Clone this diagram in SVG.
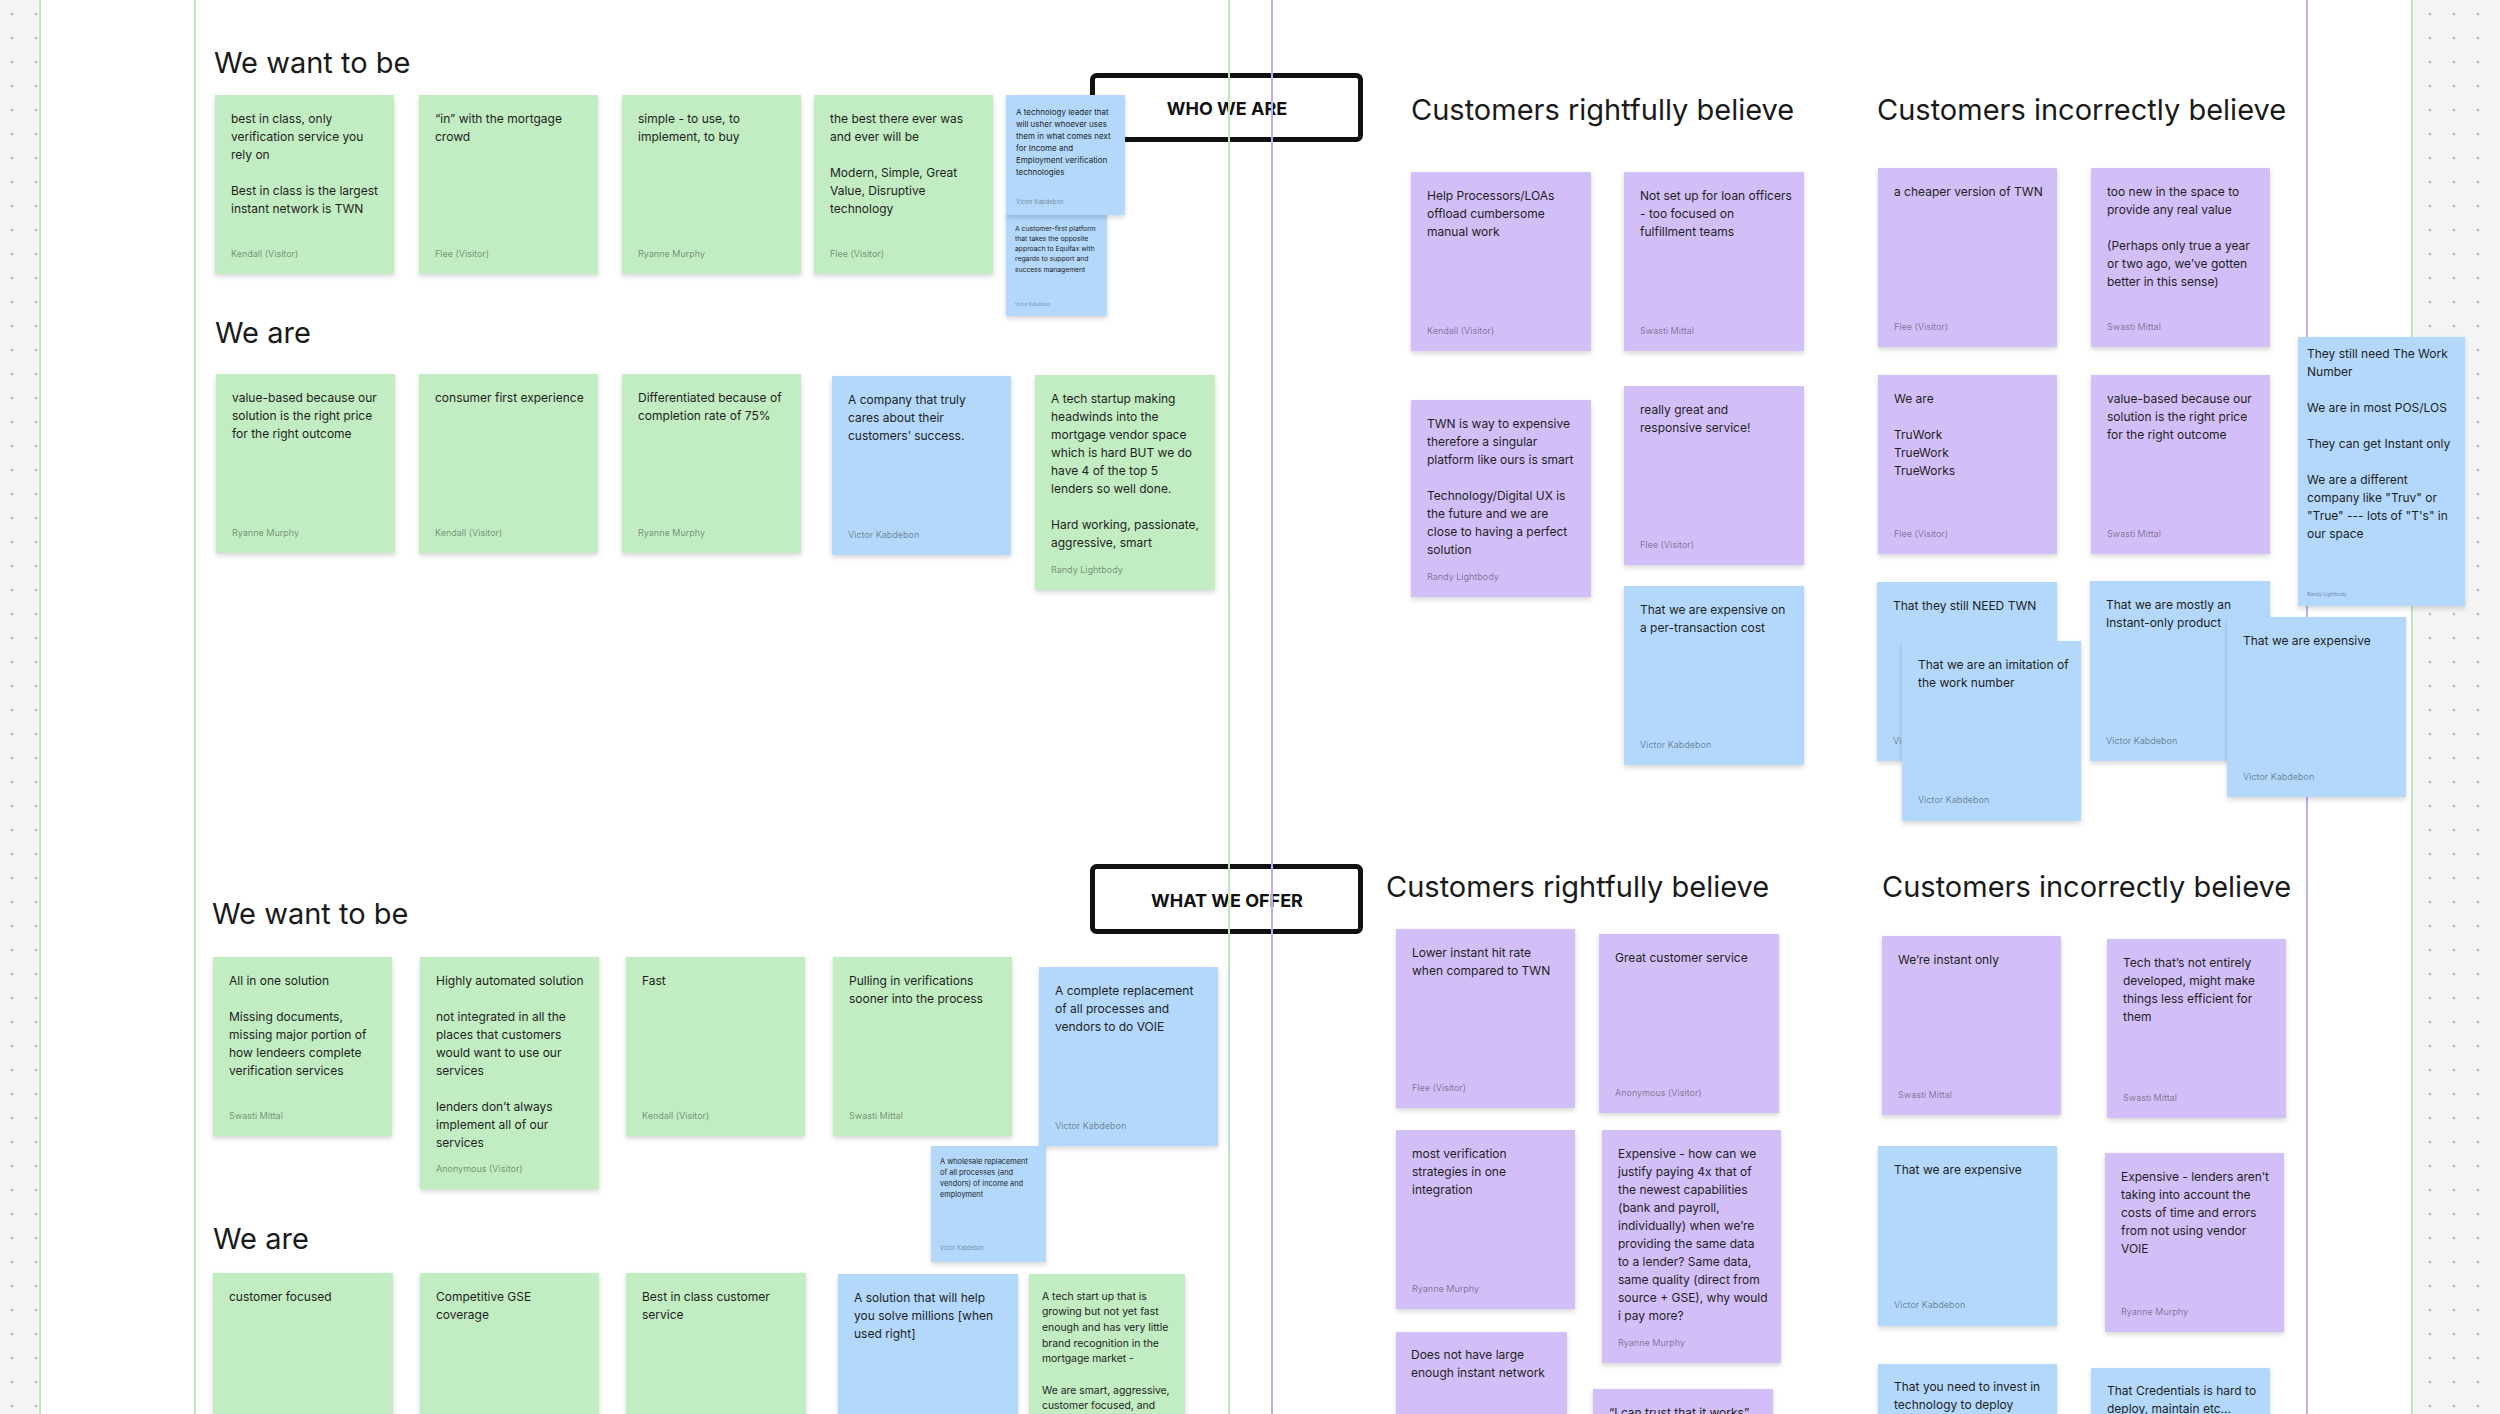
<svg xmlns="http://www.w3.org/2000/svg" width="2500" height="1414" viewBox="0 0 2500 1414">
<defs>
<filter id="sh" x="-10%" y="-10%" width="120%" height="130%"><feDropShadow dx="0" dy="2.5" stdDeviation="2.5" flood-color="#000" flood-opacity="0.16"/></filter>
<pattern id="dl" x="0" y="2" width="24" height="24" patternUnits="userSpaceOnUse"><circle cx="12" cy="12" r="1.3" fill="#b4b4b4"/></pattern>
<pattern id="dr" x="2418" y="2" width="24" height="24" patternUnits="userSpaceOnUse"><circle cx="12" cy="12" r="1.3" fill="#b4b4b4"/></pattern>
</defs>
<style>
.g{fill:#c2ecc2;filter:url(#sh)}
.p{fill:#d3bff8;filter:url(#sh)}
.b{fill:#b3d8fb;filter:url(#sh)}
text{font-family:Inter,"Noto Sans","Liberation Sans",sans-serif}
.t{font-size:12px;fill:#1e1e1e}
.a{font-size:9px;fill:#000;fill-opacity:.42}
.h{font-size:29px;fill:#1a1a1a}
.bx{fill:#fff;stroke:#111;stroke-width:5}
.bt{font-size:18px;font-weight:700;fill:#111;text-anchor:middle}
.lg{stroke:#bfe8bf;stroke-width:2}
.lp{stroke:#c2acf4;stroke-width:2}
</style>
<rect x="0" y="0" width="2500" height="1414" fill="#fff"/>
<rect x="0" y="0" width="40" height="1414" fill="#f4f4f4"/>
<rect x="0" y="0" width="40" height="1414" fill="url(#dl)"/>
<rect x="2412" y="0" width="88" height="1414" fill="#f4f4f4"/>
<rect x="2412" y="0" width="88" height="1414" fill="url(#dr)"/>

<g id="titles">
<text class="h" x="214" y="73">We want to be</text>
<text class="h" x="215" y="343">We are</text>
<text class="h" x="1411" y="120">Customers rightfully believe</text>
<text class="h" x="1877" y="120">Customers incorrectly believe</text>
<text class="h" x="212" y="924">We want to be</text>
<text class="h" x="213" y="1249">We are</text>
<text class="h" x="1386" y="897">Customers rightfully believe</text>
<text class="h" x="1882" y="897">Customers incorrectly believe</text>
</g>

<g id="who-we-are"><rect class="bx" x="1092.5" y="75.5" width="268" height="64" rx="4"/><text class="bt" x="1227" y="115">WHO WE ARE</text></g>
<g id="what-we-offer"><rect class="bx" x="1092.5" y="866.5" width="268" height="65" rx="4"/><text class="bt" x="1227" y="907">WHAT WE OFFER</text></g>

<g id="connectors">
<line class="lg" x1="40" y1="0" x2="40" y2="1414"/>
<line class="lg" x1="195" y1="0" x2="195" y2="1414"/>
<line class="lg" x1="1229" y1="0" x2="1229" y2="1414"/>
<line class="lp" x1="1272" y1="0" x2="1272" y2="1414"/>
<line class="lp" x1="2307" y1="0" x2="2307" y2="1414"/>
<line class="lg" x1="2412" y1="0" x2="2412" y2="1414"/>
</g>

<g id="twtb1"><rect class="g" x="215" y="95" width="179" height="179"/><text class="t"><tspan x="231" y="123">best in class, only</tspan><tspan x="231" y="141">verification service you</tspan><tspan x="231" y="159">rely on</tspan><tspan x="231" y="195">Best in class is the largest</tspan><tspan x="231" y="213">instant network is TWN</tspan></text><text class="a" x="231" y="257">Kendall (Visitor)</text></g>
<g id="twtb2"><rect class="g" x="419" y="95" width="179" height="179"/><text class="t"><tspan x="435" y="123">“in” with the mortgage</tspan><tspan x="435" y="141">crowd</tspan></text><text class="a" x="435" y="257">Flee (Visitor)</text></g>
<g id="twtb3"><rect class="g" x="622" y="95" width="179" height="179"/><text class="t"><tspan x="638" y="123">simple - to use, to</tspan><tspan x="638" y="141">implement, to buy</tspan></text><text class="a" x="638" y="257">Ryanne Murphy</text></g>
<g id="twtb4"><rect class="g" x="814" y="95" width="179" height="179"/><text class="t"><tspan x="830" y="123">the best there ever was</tspan><tspan x="830" y="141">and ever will be</tspan><tspan x="830" y="177">Modern, Simple, Great</tspan><tspan x="830" y="195">Value, Disruptive</tspan><tspan x="830" y="213">technology</tspan></text><text class="a" x="830" y="257">Flee (Visitor)</text></g>
<g id="twtb6"><rect class="b" x="1006" y="214" width="101" height="102"/><text class="t" style="font-size:6.8px"><tspan x="1015" y="230.5">A customer-first platform</tspan><tspan x="1015" y="240.8">that takes the opposite</tspan><tspan x="1015" y="251.1">approach to Equifax with</tspan><tspan x="1015" y="261.4">regards to support and</tspan><tspan x="1015" y="271.7">success management</tspan></text><text class="a" style="font-size:4.5px" x="1015" y="305.5">Victor Kabdebon</text></g>
<g id="twtb5"><rect class="b" x="1006" y="95" width="119" height="120"/><text class="t" style="font-size:8px"><tspan x="1016" y="115">A technology leader that</tspan><tspan x="1016" y="127">will usher whoever uses</tspan><tspan x="1016" y="139">them in what comes next</tspan><tspan x="1016" y="151">for Income and</tspan><tspan x="1016" y="163">Employment verification</tspan><tspan x="1016" y="175">technologies</tspan></text><text class="a" style="font-size:6px" x="1016" y="203.5">Victor Kabdebon</text></g>

<g id="twa1"><rect class="g" x="216" y="374" width="179" height="179"/><text class="t"><tspan x="232" y="402">value-based because our</tspan><tspan x="232" y="420">solution is the right price</tspan><tspan x="232" y="438">for the right outcome</tspan></text><text class="a" x="232" y="536">Ryanne Murphy</text></g>
<g id="twa2"><rect class="g" x="419" y="374" width="179" height="179"/><text class="t"><tspan x="435" y="402">consumer first experience</tspan></text><text class="a" x="435" y="536">Kendall (Visitor)</text></g>
<g id="twa3"><rect class="g" x="622" y="374" width="179" height="179"/><text class="t"><tspan x="638" y="402">Differentiated because of</tspan><tspan x="638" y="420">completion rate of 75%</tspan></text><text class="a" x="638" y="536">Ryanne Murphy</text></g>
<g id="twa4"><rect class="b" x="832" y="376" width="179" height="179"/><text class="t"><tspan x="848" y="404">A company that truly</tspan><tspan x="848" y="422">cares about their</tspan><tspan x="848" y="440">customers’ success.</tspan></text><text class="a" x="848" y="538">Victor Kabdebon</text></g>
<g id="twa5"><rect class="g" x="1035" y="375" width="180" height="215"/><text class="t"><tspan x="1051" y="403">A tech startup making</tspan><tspan x="1051" y="421">headwinds into the</tspan><tspan x="1051" y="439">mortgage vendor space</tspan><tspan x="1051" y="457">which is hard BUT we do</tspan><tspan x="1051" y="475">have 4 of the top 5</tspan><tspan x="1051" y="493">lenders so well done.</tspan><tspan x="1051" y="529">Hard working, passionate,</tspan><tspan x="1051" y="547">aggressive, smart</tspan></text><text class="a" x="1051" y="573">Randy Lightbody</text></g>

<g id="tr1"><rect class="p" x="1411" y="172" width="180" height="179"/><text class="t"><tspan x="1427" y="200">Help Processors/LOAs</tspan><tspan x="1427" y="218">offload cumbersome</tspan><tspan x="1427" y="236">manual work</tspan></text><text class="a" x="1427" y="334">Kendall (Visitor)</text></g>
<g id="tr2"><rect class="p" x="1624" y="172" width="180" height="179"/><text class="t"><tspan x="1640" y="200">Not set up for loan officers</tspan><tspan x="1640" y="218">- too focused on</tspan><tspan x="1640" y="236">fulfillment teams</tspan></text><text class="a" x="1640" y="334">Swasti Mittal</text></g>
<g id="tr3"><rect class="p" x="1411" y="400" width="180" height="197"/><text class="t"><tspan x="1427" y="428">TWN is way to expensive</tspan><tspan x="1427" y="446">therefore a singular</tspan><tspan x="1427" y="464">platform like ours is smart</tspan><tspan x="1427" y="500">Technology/Digital UX is</tspan><tspan x="1427" y="518">the future and we are</tspan><tspan x="1427" y="536">close to having a perfect</tspan><tspan x="1427" y="554">solution</tspan></text><text class="a" x="1427" y="580">Randy Lightbody</text></g>
<g id="tr4"><rect class="p" x="1624" y="386" width="180" height="179"/><text class="t"><tspan x="1640" y="414">really great and</tspan><tspan x="1640" y="432">responsive service!</tspan></text><text class="a" x="1640" y="548">Flee (Visitor)</text></g>
<g id="tr5"><rect class="b" x="1624" y="586" width="180" height="179"/><text class="t"><tspan x="1640" y="614">That we are expensive on</tspan><tspan x="1640" y="632">a per-transaction cost</tspan></text><text class="a" x="1640" y="748">Victor Kabdebon</text></g>

<g id="ti1"><rect class="p" x="1878" y="168" width="179" height="179"/><text class="t"><tspan x="1894" y="196">a cheaper version of TWN</tspan></text><text class="a" x="1894" y="330">Flee (Visitor)</text></g>
<g id="ti2"><rect class="p" x="2091" y="168" width="179" height="179"/><text class="t"><tspan x="2107" y="196">too new in the space to</tspan><tspan x="2107" y="214">provide any real value</tspan><tspan x="2107" y="250">(Perhaps only true a year</tspan><tspan x="2107" y="268">or two ago, we’ve gotten</tspan><tspan x="2107" y="286">better in this sense)</tspan></text><text class="a" x="2107" y="330">Swasti Mittal</text></g>
<g id="ti3"><rect class="p" x="1878" y="375" width="179" height="179"/><text class="t"><tspan x="1894" y="403">We are</tspan><tspan x="1894" y="439">TruWork</tspan><tspan x="1894" y="457">TrueWork</tspan><tspan x="1894" y="475">TrueWorks</tspan></text><text class="a" x="1894" y="537">Flee (Visitor)</text></g>
<g id="ti4"><rect class="p" x="2091" y="375" width="179" height="179"/><text class="t"><tspan x="2107" y="403">value-based because our</tspan><tspan x="2107" y="421">solution is the right price</tspan><tspan x="2107" y="439">for the right outcome</tspan></text><text class="a" x="2107" y="537">Swasti Mittal</text></g>
<g id="ti5"><rect class="b" x="1877" y="582" width="180" height="179"/><text class="t"><tspan x="1893" y="610">That they still NEED TWN</tspan></text><text class="a" x="1893" y="744">Victor Kabdebon</text></g>
<g id="ti6"><rect class="b" x="1902" y="641" width="179" height="180"/><text class="t"><tspan x="1918" y="669">That we are an imitation of</tspan><tspan x="1918" y="687">the work number</tspan></text><text class="a" x="1918" y="803">Victor Kabdebon</text></g>
<g id="ti7"><rect class="b" x="2090" y="581" width="180" height="180"/><text class="t"><tspan x="2106" y="609">That we are mostly an</tspan><tspan x="2106" y="627">Instant-only product</tspan></text><text class="a" x="2106" y="744">Victor Kabdebon</text></g>
<g id="ti8"><rect class="b" x="2227" y="617" width="179" height="180"/><text class="t"><tspan x="2243" y="645">That we are expensive</tspan></text><text class="a" x="2243" y="780">Victor Kabdebon</text></g>
<g id="ti9"><rect class="b" x="2298" y="337" width="167" height="269"/><text class="t"><tspan x="2307" y="358">They still need The Work</tspan><tspan x="2307" y="376">Number</tspan><tspan x="2307" y="412">We are in most POS/LOS</tspan><tspan x="2307" y="448">They can get Instant only</tspan><tspan x="2307" y="484">We are a different</tspan><tspan x="2307" y="502">company like "Truv" or</tspan><tspan x="2307" y="520">"True" --- lots of "T's" in</tspan><tspan x="2307" y="538">our space</tspan></text><text class="a" style="font-size:5px" x="2307" y="596">Randy Lightbody</text></g>

<g id="bwtb1"><rect class="g" x="213" y="957" width="179" height="179"/><text class="t"><tspan x="229" y="985">All in one solution</tspan><tspan x="229" y="1021">Missing documents,</tspan><tspan x="229" y="1039">missing major portion of</tspan><tspan x="229" y="1057">how lendeers complete</tspan><tspan x="229" y="1075">verification services</tspan></text><text class="a" x="229" y="1119">Swasti Mittal</text></g>
<g id="bwtb2"><rect class="g" x="420" y="957" width="179" height="232"/><text class="t"><tspan x="436" y="985">Highly automated solution</tspan><tspan x="436" y="1021">not integrated in all the</tspan><tspan x="436" y="1039">places that customers</tspan><tspan x="436" y="1057">would want to use our</tspan><tspan x="436" y="1075">services</tspan><tspan x="436" y="1111">lenders don’t always</tspan><tspan x="436" y="1129">implement all of our</tspan><tspan x="436" y="1147">services</tspan></text><text class="a" x="436" y="1172">Anonymous (Visitor)</text></g>
<g id="bwtb3"><rect class="g" x="626" y="957" width="179" height="179"/><text class="t"><tspan x="642" y="985">Fast</tspan></text><text class="a" x="642" y="1119">Kendall (Visitor)</text></g>
<g id="bwtb4"><rect class="g" x="833" y="957" width="179" height="179"/><text class="t"><tspan x="849" y="985">Pulling in verifications</tspan><tspan x="849" y="1003">sooner into the process</tspan></text><text class="a" x="849" y="1119">Swasti Mittal</text></g>
<g id="bwtb5"><rect class="b" x="1039" y="967" width="179" height="179"/><text class="t"><tspan x="1055" y="995">A complete replacement</tspan><tspan x="1055" y="1013">of all processes and</tspan><tspan x="1055" y="1031">vendors to do VOIE</tspan></text><text class="a" x="1055" y="1129">Victor Kabdebon</text></g>
<g id="bwtb6"><rect class="b" x="931" y="1146" width="115" height="116"/><text class="t" style="font-size:7.4px"><tspan x="940" y="1163.5">A wholesale replacement</tspan><tspan x="940" y="1174.8">of all processes (and</tspan><tspan x="940" y="1186.1">vendors) of income and</tspan><tspan x="940" y="1197.4">employment</tspan></text><text class="a" style="font-size:5.5px" x="940" y="1250">Victor Kabdebon</text></g>

<g id="bwa1"><rect class="g" x="213" y="1273" width="180" height="170"/><text class="t"><tspan x="229" y="1301">customer focused</tspan></text></g>
<g id="bwa2"><rect class="g" x="420" y="1273" width="179" height="170"/><text class="t"><tspan x="436" y="1301">Competitive GSE</tspan><tspan x="436" y="1319">coverage</tspan></text></g>
<g id="bwa3"><rect class="g" x="626" y="1273" width="180" height="170"/><text class="t"><tspan x="642" y="1301">Best in class customer</tspan><tspan x="642" y="1319">service</tspan></text></g>
<g id="bwa4"><rect class="b" x="838" y="1274" width="180" height="170"/><text class="t"><tspan x="854" y="1302">A solution that will help</tspan><tspan x="854" y="1320">you solve millions [when</tspan><tspan x="854" y="1338">used right]</tspan></text></g>
<g id="bwa5"><rect class="g" x="1029" y="1274" width="156" height="170"/><text class="t" style="font-size:10.4px"><tspan x="1042" y="1299.5">A tech start up that is</tspan><tspan x="1042" y="1315.2">growing but not yet fast</tspan><tspan x="1042" y="1330.9">enough and has very little</tspan><tspan x="1042" y="1346.6">brand recognition in the</tspan><tspan x="1042" y="1362.3">mortgage market -</tspan><tspan x="1042" y="1393.7">We are smart, aggressive,</tspan><tspan x="1042" y="1409.4">customer focused, and</tspan></text></g>

<g id="br1"><rect class="p" x="1396" y="929" width="179" height="179"/><text class="t"><tspan x="1412" y="957">Lower instant hit rate</tspan><tspan x="1412" y="975">when compared to TWN</tspan></text><text class="a" x="1412" y="1091">Flee (Visitor)</text></g>
<g id="br2"><rect class="p" x="1599" y="934" width="180" height="179"/><text class="t"><tspan x="1615" y="962">Great customer service</tspan></text><text class="a" x="1615" y="1096">Anonymous (Visitor)</text></g>
<g id="br3"><rect class="p" x="1396" y="1130" width="179" height="179"/><text class="t"><tspan x="1412" y="1158">most verification</tspan><tspan x="1412" y="1176">strategies in one</tspan><tspan x="1412" y="1194">integration</tspan></text><text class="a" x="1412" y="1292">Ryanne Murphy</text></g>
<g id="br4"><rect class="p" x="1602" y="1130" width="179" height="233"/><text class="t"><tspan x="1618" y="1158">Expensive - how can we</tspan><tspan x="1618" y="1176">justify paying 4x that of</tspan><tspan x="1618" y="1194">the newest capabilities</tspan><tspan x="1618" y="1212">(bank and payroll,</tspan><tspan x="1618" y="1230">individually) when we’re</tspan><tspan x="1618" y="1248">providing the same data</tspan><tspan x="1618" y="1266">to a lender? Same data,</tspan><tspan x="1618" y="1284">same quality (direct from</tspan><tspan x="1618" y="1302">source + GSE), why would</tspan><tspan x="1618" y="1320">i pay more?</tspan></text><text class="a" x="1618" y="1346">Ryanne Murphy</text></g>
<g id="br5"><rect class="p" x="1396" y="1332" width="171" height="110"/><text class="t"><tspan x="1411" y="1359">Does not have large</tspan><tspan x="1411" y="1377">enough instant network</tspan></text></g>
<g id="br6"><rect class="p" x="1593" y="1389" width="180" height="60"/><text class="t"><tspan x="1609" y="1417">“I can trust that it works”</tspan></text></g>

<g id="bi1"><rect class="p" x="1882" y="936" width="179" height="179"/><text class="t"><tspan x="1898" y="964">We’re instant only</tspan></text><text class="a" x="1898" y="1098">Swasti Mittal</text></g>
<g id="bi2"><rect class="p" x="2107" y="939" width="179" height="179"/><text class="t"><tspan x="2123" y="967">Tech that’s not entirely</tspan><tspan x="2123" y="985">developed, might make</tspan><tspan x="2123" y="1003">things less efficient for</tspan><tspan x="2123" y="1021">them</tspan></text><text class="a" x="2123" y="1101">Swasti Mittal</text></g>
<g id="bi3"><rect class="b" x="1878" y="1146" width="179" height="180"/><text class="t"><tspan x="1894" y="1174">That we are expensive</tspan></text><text class="a" x="1894" y="1308">Victor Kabdebon</text></g>
<g id="bi4"><rect class="p" x="2105" y="1153" width="179" height="179"/><text class="t"><tspan x="2121" y="1181">Expensive - lenders aren’t</tspan><tspan x="2121" y="1199">taking into account the</tspan><tspan x="2121" y="1217">costs of time and errors</tspan><tspan x="2121" y="1235">from not using vendor</tspan><tspan x="2121" y="1253">VOIE</tspan></text><text class="a" x="2121" y="1315">Ryanne Murphy</text></g>
<g id="bi5"><rect class="b" x="1878" y="1364" width="179" height="80"/><text class="t"><tspan x="1894" y="1391">That you need to invest in</tspan><tspan x="1894" y="1409">technology to deploy</tspan></text></g>
<g id="bi6"><rect class="b" x="2091" y="1368" width="179" height="80"/><text class="t"><tspan x="2107" y="1395">That Credentials is hard to</tspan><tspan x="2107" y="1413">deploy, maintain etc...</tspan></text></g>
</svg>
